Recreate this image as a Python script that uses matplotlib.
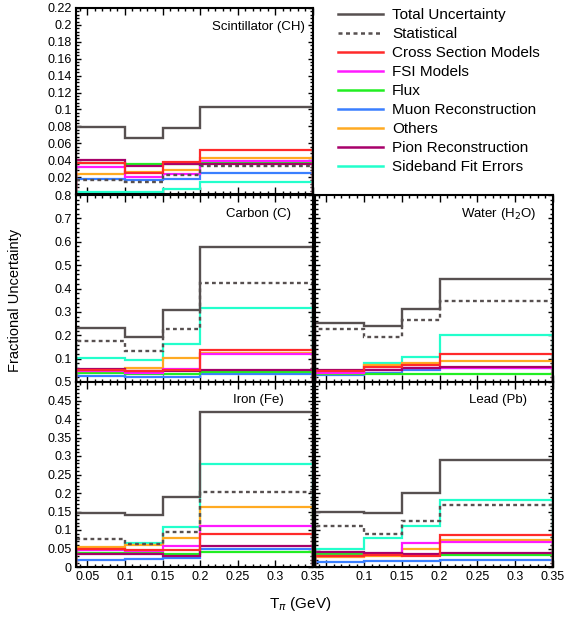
import matplotlib
matplotlib.use("Agg")
import matplotlib.pyplot as plt
from matplotlib.ticker import MultipleLocator, AutoMinorLocator, FuncFormatter
from matplotlib.lines import Line2D

plt.rcParams['font.family'] = ['Liberation Sans', 'DejaVu Sans']

# ---- data ----
bin_edges = [0.035, 0.1, 0.15, 0.2, 0.35]
series_names = ["Total Uncertainty", "Statistical", "Cross Section Models", "FSI Models",
                "Flux", "Muon Reconstruction", "Others", "Pion Reconstruction",
                "Sideband Fit Errors"]

ch_total = [0.079, 0.066, 0.078, 0.103]
ch_stat = [0.0166, 0.0146, 0.023, 0.0328]
ch_xsec = [0.037, 0.025, 0.0383, 0.0518]
ch_fsi = [0.032, 0.0198, 0.0233, 0.0395]
ch_flux = [0.0368, 0.0356, 0.0356, 0.0383]
ch_muon = [0.0178, 0.017, 0.0178, 0.0245]
ch_other = [0.0233, 0.026, 0.0289, 0.0423]
ch_pion = [0.0407, 0.033, 0.035, 0.036]
ch_side = [0.0028, 0.0028, 0.0055, 0.0142]

c_total = [0.233, 0.191, 0.309, 0.577]
c_stat = [0.177, 0.131, 0.226, 0.424]
c_xsec = [0.052, 0.048, 0.05, 0.136]
c_fsi = [0.045, 0.04, 0.057, 0.121]
c_flux = [0.039, 0.033, 0.033, 0.041]
c_muon = [0.026, 0.021, 0.021, 0.036]
c_other = [0.047, 0.059, 0.104, 0.126]
c_pion = [0.057, 0.046, 0.046, 0.053]
c_side = [0.104, 0.096, 0.164, 0.316]

h2o_total = [0.254, 0.238, 0.312, 0.44]
h2o_stat = [0.227, 0.194, 0.264, 0.348]
h2o_xsec = [0.045, 0.064, 0.073, 0.12]
h2o_fsi = [0.04, 0.05, 0.06, 0.062]
h2o_flux = [0.035, 0.035, 0.036, 0.036]
h2o_muon = [0.03, 0.04, 0.05, 0.058]
h2o_other = [0.04, 0.074, 0.08, 0.09]
h2o_pion = [0.05, 0.05, 0.061, 0.064]
h2o_side = [0.039, 0.083, 0.105, 0.2]

fe_total = [0.145, 0.14, 0.188, 0.42]
fe_stat = [0.077, 0.062, 0.094, 0.204]
fe_xsec = [0.05, 0.045, 0.045, 0.09]
fe_fsi = [0.045, 0.042, 0.056, 0.11]
fe_flux = [0.038, 0.038, 0.035, 0.04]
fe_muon = [0.019, 0.021, 0.024, 0.049]
fe_other = [0.053, 0.06, 0.078, 0.163]
fe_pion = [0.035, 0.034, 0.03, 0.058]
fe_side = [0.047, 0.066, 0.109, 0.279]

pb_total = [0.15, 0.145, 0.2, 0.29]
pb_stat = [0.111, 0.089, 0.123, 0.167]
pb_xsec = [0.03, 0.032, 0.03, 0.087]
pb_fsi = [0.03, 0.035, 0.066, 0.068]
pb_flux = [0.035, 0.035, 0.033, 0.032]
pb_muon = [0.014, 0.015, 0.017, 0.018]
pb_other = [0.026, 0.03, 0.049, 0.074]
pb_pion = [0.04, 0.039, 0.036, 0.037]
pb_side = [0.048, 0.078, 0.111, 0.182]

panel_labels = ["Scintillator (CH)", "Carbon (C)", "Water (H$_2$O)", "Iron (Fe)", "Lead (Pb)"]

colors = ["#575050", "#575050", "#ff2a2a", "#ff1aff", "#22ee22", "#3a7fff",
          "#ffaa22", "#a8006a", "#22ffcc"]
styles = ["-", (0, (1.6, 1.4)), "-", "-", "-", "-", "-", "-", "-"]

# draw order (back to front)
order = [8, 5, 4, 6, 3, 7, 2, 1, 0]

panels = [
    ("CH", [ch_total, ch_stat, ch_xsec, ch_fsi, ch_flux, ch_muon, ch_other, ch_pion, ch_side]),
    ("C", [c_total, c_stat, c_xsec, c_fsi, c_flux, c_muon, c_other, c_pion, c_side]),
    ("H2O", [h2o_total, h2o_stat, h2o_xsec, h2o_fsi, h2o_flux, h2o_muon, h2o_other, h2o_pion, h2o_side]),
    ("Fe", [fe_total, fe_stat, fe_xsec, fe_fsi, fe_flux, fe_muon, fe_other, fe_pion, fe_side]),
    ("Pb", [pb_total, pb_stat, pb_xsec, pb_fsi, pb_flux, pb_muon, pb_other, pb_pion, pb_side]),
]

W, H = 566, 622
fig = plt.figure(figsize=(W / 100, H / 100), dpi=100)

def rect(x0, x1, ytop, ybot):
    return [x0 / W, 1 - ybot / H, (x1 - x0) / W, (ybot - ytop) / H]

rects = [
    rect(76, 313, 8, 194),
    rect(76, 313, 195, 382),
    rect(315, 553, 195, 382),
    rect(76, 313, 382, 567),
    rect(315, 553, 382, 567),
]
ylims = [0.22, 0.8, 0.8, 0.5, 0.5]
ymaj = [0.02, 0.1, 0.1, 0.05, 0.05]
show_ylabels = [True, True, False, True, False]
show_xlabels = [False, False, False, True, True]
hide_zero = [True, True, True, False, False]

for i, (name, data) in enumerate(panels):
    ax = fig.add_axes(rects[i])
    for k in order:
        ax.stairs(data[k], bin_edges, color=colors[k], linestyle=styles[k],
                  linewidth=1.6 if k > 1 else 1.7, baseline=0, zorder=2 + (k < 2))
    ax.set_xlim(bin_edges[0], bin_edges[-1])
    ax.set_ylim(0, ylims[i])
    ax.xaxis.set_major_locator(MultipleLocator(0.05))
    ax.xaxis.set_minor_locator(AutoMinorLocator(5))
    ax.yaxis.set_major_locator(MultipleLocator(ymaj[i]))
    ax.yaxis.set_minor_locator(AutoMinorLocator(5))
    ax.tick_params(which='both', direction='in', top=True, right=True, width=1.0,
                   labelsize=9, pad=3)
    ax.tick_params(axis='x', which='major', length=5)
    ax.tick_params(axis='x', which='minor', length=2.5)
    ax.tick_params(axis='y', which='major', length=3.5)
    ax.tick_params(axis='y', which='minor', length=2)
    for s in ax.spines.values():
        s.set_linewidth(1.5)
        s.set_zorder(5)
    if show_ylabels[i]:
        ax.yaxis.set_major_formatter(FuncFormatter(
            lambda v, p, hz=hide_zero[i]: "" if (hz and abs(v) < 1e-9) else "%g" % round(v, 4)))
    else:
        ax.set_yticklabels([])
    if show_xlabels[i]:
        left = (i == 3)
        ax.xaxis.set_major_formatter(FuncFormatter(
            lambda v, p, lf=left: "" if (not lf and v < 0.075) else "%g" % round(v, 4)))
    else:
        ax.set_xticklabels([])
    ax.text(0.77, 0.90, panel_labels[i], transform=ax.transAxes, ha='center', va='center',
            fontsize=9.5)

fig.text(15 / W, 1 - 300 / H, "Fractional Uncertainty", rotation=90, ha='center',
         va='center', fontsize=10.5)
fig.text(300 / W, 1 - 604 / H, r"T$_{\pi}$ (GeV)", ha='center', va='center', fontsize=11)

handles = [Line2D([0], [0], color=colors[k], linestyle=styles[k], linewidth=1.8)
           for k in range(len(series_names))]
fig.legend(handles, series_names, loc='upper left', bbox_to_anchor=(338 / W, 1 - 8 / H),
           frameon=False, fontsize=11, handlelength=2.95, handletextpad=0.6,
           labelspacing=0.33, borderpad=0, borderaxespad=0)

fig.savefig("out.png", dpi=100)
